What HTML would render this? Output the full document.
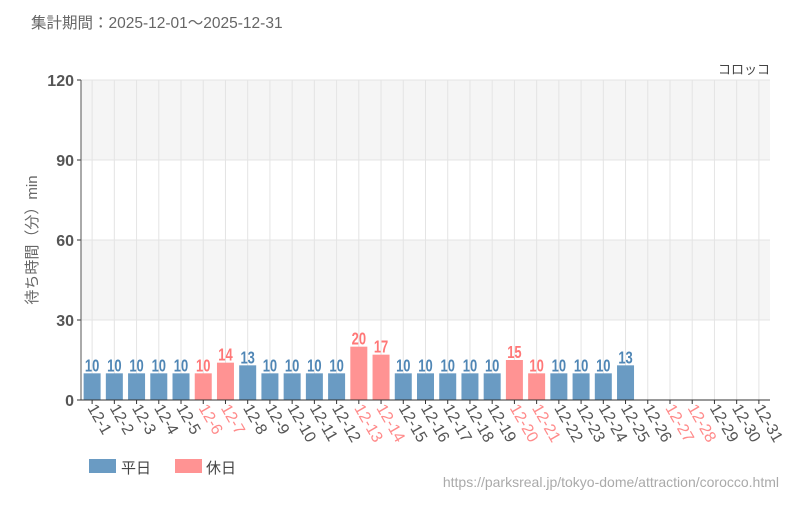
<!DOCTYPE html>
<html><head><meta charset="utf-8"><style>
body{margin:0;background:#fff;font-family:"Liberation Sans","Noto Sans CJK JP",sans-serif;}
</style></head><body>
<svg id="c" width="800" height="500" xmlns="http://www.w3.org/2000/svg">
<text x="31" y="28" font-size="15.5" fill="#666">集計期間：2025-12-01～2025-12-31</text>
<text x="770" y="74" font-size="13" fill="#444" text-anchor="end">コロッコ</text>
<text transform="translate(37,240) rotate(-90)" font-size="15" fill="#666" text-anchor="middle">待ち時間（分）min</text>
<g id="plot"></g>
<rect x="89" y="459" width="27" height="14" fill="#6a9bc3"/>
<text x="121" y="473" font-size="15" fill="#444">平日</text>
<rect x="175" y="459" width="27" height="14" fill="#ff9393"/>
<text x="206" y="473" font-size="15" fill="#444">休日</text>
<text x="779" y="487" font-size="14" fill="#aaa" text-anchor="end">https://parksreal.jp/tokyo-dome/attraction/corocco.html</text>
</svg>
<script>
const categories=["12-1","12-2","12-3","12-4","12-5","12-6","12-7","12-8","12-9","12-10","12-11","12-12","12-13","12-14","12-15","12-16","12-17","12-18","12-19","12-20","12-21","12-22","12-23","12-24","12-25","12-26","12-27","12-28","12-29","12-30","12-31"];
const values=[10,10,10,10,10,10,14,13,10,10,10,10,20,17,10,10,10,10,10,15,10,10,10,10,13,null,null,null,null,null,null];
const holidays=[0,0,0,0,0,1,1,0,0,0,0,0,1,1,0,0,0,0,0,1,1,0,0,0,0,0,1,1,0,0,0];
const yTicks=[0,30,60,90,120];
const NS="http://www.w3.org/2000/svg";
const g=document.getElementById('plot');
const X0=81,X1=770,Y0=400,Y1=80,yMax=120;
const slot=(X1-X0)/categories.length;
const y=v=>Y0-(v/yMax)*(Y0-Y1);
const xc=i=>X0+slot*(i+0.5);
function mk(t,a){const e=document.createElementNS(NS,t);for(const k in a)e.setAttribute(k,a[k]);g.appendChild(e);return e;}
for(let k=0;k<yTicks.length-1;k++){
 if(k%2==1){const r=mk('rect',{x:X0,y:y(yTicks[k+1]),width:X1-X0,height:y(yTicks[k])-y(yTicks[k+1]),fill:'#f5f5f5'});
 
 }
}
yTicks.forEach(v=>{
 const l=mk('line',{x1:X0,x2:X1,y1:y(v),y2:y(v),stroke:'#e4e4e4'});
 
 
 const t=mk('line',{x1:X0-4,x2:X0,y1:y(v),y2:y(v),stroke:'#333'});
 
 
 const tx=mk('text',{x:X0-7,y:y(v)+6,'font-size':16,fill:'#555','text-anchor':'end','font-weight':'bold'});
 tx.textContent=v;
 
 
});
categories.forEach((c,i)=>{
 const l=mk('line',{x1:xc(i),x2:xc(i),y1:Y1,y2:Y0,stroke:'#e4e4e4'});
 
 
});
categories.forEach((c,i)=>{
 const col=holidays[i]?'#ff9393':'#6a9bc3';
 const tcol=holidays[i]?'#f77':'#4f86b5';
 if(values[i]!=null){
  const b=mk('rect',{x:xc(i)-8.5,y:y(values[i]),width:17,height:Y0-y(values[i]),fill:col});
  
  
  const t=mk('text',{x:xc(i),y:y(values[i])-2,'font-size':18,'font-weight':'bold',fill:tcol,'text-anchor':'middle',transform:`translate(${xc(i)},0) scale(0.72,1) translate(${-xc(i)},0)`});
  t.textContent=values[i];
  
  
 }
 const tk=mk('line',{x1:xc(i),x2:xc(i),y1:Y0,y2:Y0+4,stroke:'#333'});
 
 
 const lt=mk('text',{x:0,y:0,'font-size':16,fill:holidays[i]?'#ff8a8a':'#555',transform:`translate(${xc(i)-5},${Y0+8}) rotate(60)`});
 lt.textContent=c;
 
 
});
const ax=mk('line',{x1:X0,x2:X0,y1:Y1,y2:Y0,stroke:'#555'});


const bx=mk('line',{x1:X0-4,x2:X1,y1:Y0,y2:Y0,stroke:'#333'});


</script>
</body></html>
